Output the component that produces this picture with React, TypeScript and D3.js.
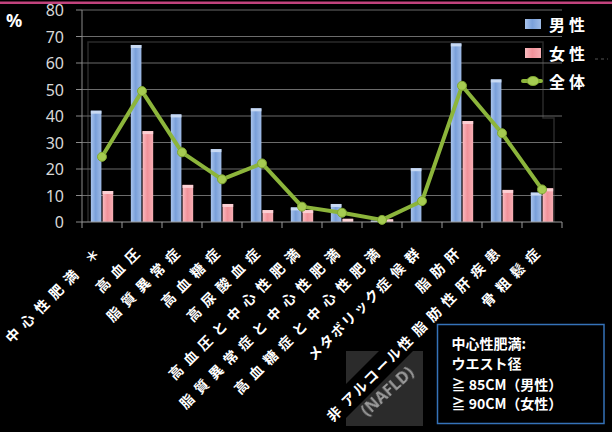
import React from "react";
import * as d3 from "d3";

const categories = [
  "中心性肥満 ＊",
  "高血圧",
  "脂質異常症",
  "高血糖症",
  "高尿酸血症",
  "高血圧と中心性肥満",
  "脂質異常症と中心性肥満",
  "高血糖症と中心性肥満",
  "メタボリック症候群",
  "脂肪肝",
  "非アルコール性脂肪性肝疾患",
  "骨粗鬆症",
];
const maleValues = [42.0, 66.8, 40.6, 27.5, 42.9, 5.5, 6.8, 0.5, 20.3, 67.4, 53.8, 11.1];
const femaleValues = [11.7, 34.3, 14.0, 6.8, 4.5, 4.5, 1.2, 1.0, 0, 38.1, 12.1, 12.7];
const totalValues = [24.6, 49.4, 26.3, 16.1, 22.1, 5.8, 3.5, 0.8, 7.9, 51.4, 33.5, 12.3];
const yTicks = [0, 10, 20, 30, 40, 50, 60, 70, 80];
const seriesKeys = ["male", "female"];
const legendLabels = ["男性", "女性", "全体"];
const noteLines = ["中心性肥満:", "ウエスト径", "≧ 85CM（男性）", "≧ 90CM（女性）"];

const W = 612;
const H = 432;
const JP = "'Noto Sans CJK JP', 'Noto Sans', sans-serif";

// split a label into runs of katakana (narrow spacing) and other characters
function runs(s: string) {
  const out: { t: string; kana: boolean }[] = [];
  for (const ch of s) {
    const kana = /[\u30A0-\u30FF]/.test(ch);
    const last = out[out.length - 1];
    if (last && last.kana === kana) last.t += ch;
    else out.push({ t: ch, kana });
  }
  return out;
}

export default function App() {
  const x = d3.scaleBand<string>().domain(categories).range([82, 562]).padding(0);
  const inner = d3
    .scaleBand<string>()
    .domain(seriesKeys)
    .range([0, x.bandwidth()])
    .paddingInner(0.1)
    .paddingOuter(0.75);
  const y = d3.scaleLinear().domain([0, 80]).range([222, 10]);
  const cx = (c: string) => (x(c) as number) + x.bandwidth() / 2;

  const line = d3
    .line<number>()
    .x((_, i) => cx(categories[i]))
    .y((d) => y(d));

  const boundaries = [...categories.map((c) => x(c) as number), 562];
  const labelDX = -1;
  const labelY = 246;

  return (
    <div style={{ position: "fixed", left: 0, top: 0, width: W, height: H, background: "#000" }}>
      <svg width={W} height={H} style={{ display: "block" }}>
        <defs>
          <linearGradient id="gBlue" x1="0" x2="1" y1="0" y2="0">
            <stop offset="0" stopColor="#a9c4ec" />
            <stop offset="0.45" stopColor="#7aa0da" />
            <stop offset="1" stopColor="#9fbbe6" />
          </linearGradient>
          <linearGradient id="gPink" x1="0" x2="1" y1="0" y2="0">
            <stop offset="0" stopColor="#f9bcc1" />
            <stop offset="0.45" stopColor="#f1929a" />
            <stop offset="1" stopColor="#f6aeb4" />
          </linearGradient>
          <clipPath id="naflClip">
            <rect x={346} y={351} width={77} height={75} />
          </clipPath>
        </defs>
        <rect x={0} y={0} width={W} height={H} fill="#000" />
        {/* top magenta rule */}
        <rect x={0} y={1.5} width={W} height={2.5} fill="#c2437d" />

        {/* faint plot frame */}
        <path d="M88,222 V42 H543 V118 H554 V222" fill="none" stroke="#2a2a2a" strokeWidth={1.5} />

        {/* gridlines */}
        {yTicks.map((t) => (
          <g key={t}>
            {t > 0 && <line x1={82} x2={562} y1={y(t)} y2={y(t)} stroke="#6b6b6b" strokeWidth={1} />}
            <line x1={76} x2={82} y1={y(t)} y2={y(t)} stroke="#8a8a8a" strokeWidth={1} />
            <text
              x={64}
              y={y(t)}
              textAnchor="end"
              dominantBaseline="central"
              fontSize={16}
              fill="#d8d8d8"
              fontFamily="'Noto Sans', sans-serif"
            >
              {t}
            </text>
          </g>
        ))}
        <text x={6} y={27} fontSize={18} fontWeight="bold" fill="#fff" fontFamily="'Noto Sans', sans-serif">
          %
        </text>

        {/* bars */}
        {categories.map((c, i) => {
          const x0 = x(c) as number;
          const bw = inner.bandwidth();
          const xm = x0 + (inner("male") as number);
          const xf = x0 + (inner("female") as number);
          const hm = y(0) - y(maleValues[i]);
          const hf = y(0) - y(femaleValues[i]);
          return (
            <g key={c}>
              {hm > 0 && (
                <>
                  <rect x={xm} y={y(maleValues[i])} width={bw} height={hm} fill="url(#gBlue)" />
                  <rect x={xm} y={y(maleValues[i])} width={bw} height={Math.min(3, hm)} fill="#c9daf3" />
                </>
              )}
              {hf > 0 && (
                <>
                  <rect x={xf} y={y(femaleValues[i])} width={bw} height={hf} fill="url(#gPink)" />
                  <rect x={xf} y={y(femaleValues[i])} width={bw} height={Math.min(3, hf)} fill="#fcd0d4" />
                </>
              )}
            </g>
          );
        })}

        {/* axes */}
        <line x1={82} x2={82} y1={10} y2={222} stroke="#8a8a8a" strokeWidth={1} />
        <line x1={82} x2={562} y1={222} y2={222} stroke="#9a9a9a" strokeWidth={1.2} />
        {boundaries.map((b, i) => (
          <line key={i} x1={b} x2={b} y1={222} y2={228} stroke="#9a9a9a" strokeWidth={1} />
        ))}

        {/* total line */}
        <path
          d={line(totalValues) || ""}
          fill="none"
          stroke="#8cb53b"
          strokeWidth={4}
          strokeLinejoin="round"
          strokeLinecap="round"
        />
        {totalValues.map((v, i) => (
          <circle key={i} cx={cx(categories[i])} cy={y(v)} r={4.5} fill="#a6cc52" stroke="#7fa632" strokeWidth={1} />
        ))}

        {/* legend */}
        <rect x={525} y={19} width={16} height={10} fill="url(#gBlue)" />
        <rect x={525} y={48} width={16} height={10} fill="url(#gPink)" />
        <line x1={523} x2={541} y1={81} y2={81} stroke="#8cb53b" strokeWidth={4} strokeLinecap="round" />
        <ellipse cx={533} cy={81} rx={6} ry={4.5} fill="#a6cc52" stroke="#7fa632" strokeWidth={1} />
        {legendLabels.map((l, i) => (
          <text
            key={l}
            x={549}
            y={[24, 53, 81][i]}
            dominantBaseline="central"
            fontSize={16}
            fontWeight="bold"
            letterSpacing={4}
            fill="#fff"
            fontFamily={JP}
          >
            {l}
          </text>
        ))}
        <line x1={595} x2={608} y1={59} y2={59} stroke="#555" strokeWidth={1} strokeDasharray="3,3" />

        {/* NAFLD gray box with the label's dark band */}
        <rect x={346} y={351} width={77} height={75} fill="#2b2b2b" />
        <g clipPath="url(#naflClip)">
          <g transform={`translate(${cx(categories[10]) + labelDX},${labelY}) rotate(-45)`}>
            <rect x={-300} y={-12} width={300} height={24} fill="#000" />
          </g>
        </g>
        <text
          transform="translate(387,391) rotate(-42)"
          textAnchor="middle"
          dominantBaseline="central"
          fontSize={16}
          fontWeight="bold"
          fill="#9a9a9a"
          fontFamily="'Noto Sans', sans-serif"
          style={{ filter: "blur(0.4px)" }}
        >
          (NAFLD)
        </text>

        {/* category labels */}
        {categories.map((c) => (
          <text
            key={c}
            transform={`translate(${cx(c) + labelDX},${labelY}) rotate(-45)`}
            textAnchor="end"
            dominantBaseline="central"
            fontSize={14}
            fontWeight="bold"
            fill="#fff"
            fontFamily={JP}
          >
            {runs(c).map((r, k) => (
              <tspan key={k} letterSpacing={r.kana ? 2 : 6.5}>
                {r.t}
              </tspan>
            ))}
          </text>
        ))}

        {/* note box */}
        <rect x={437.5} y={324.5} width={166.5} height={99} fill="#000" stroke="#3572b8" strokeWidth={1.5} />
        {noteLines.map((t, i) => (
          <text
            key={t}
            x={451.5}
            y={[349, 369, 390, 409][i]}
            fontSize={14}
            fontWeight="bold"
            fill="#fff"
            fontFamily={JP}
          >
            {t}
          </text>
        ))}
      </svg>
    </div>
  );
}
